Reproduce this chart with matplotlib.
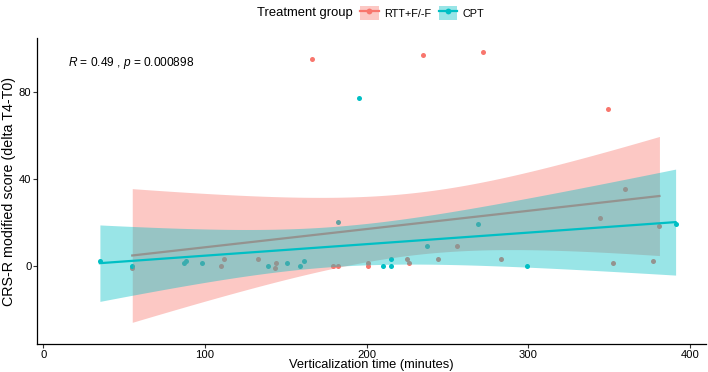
import numpy as np
import matplotlib
matplotlib.use('Agg')
from matplotlib import pyplot as plt
from matplotlib.patches import Patch
from matplotlib.lines import Line2D
from matplotlib.legend_handler import HandlerTuple

plt.rcParams['font.family'] = ['Liberation Sans', 'DejaVu Sans']
plt.rcParams['mathtext.fontset'] = 'custom'
plt.rcParams['mathtext.it'] = 'Liberation Sans:italic'
plt.rcParams['mathtext.rm'] = 'Liberation Sans'

# 数据
groups = ['RTT+F/-F', 'CPT']
colors = ['#F8766D', '#00BFC4']

rtt_x = [55, 110, 112, 133, 143, 144, 166, 179, 182, 201, 201, 225,
         226, 235, 244, 256, 272, 283, 344, 349, 352, 360, 377, 381]
rtt_y = [-1, 0, 3, 3, -1, 1, 95, 0, 0, 1, 0, 3,
         1, 97, 3, 9, 98, 3, 22, 72, 1, 35, 2, 18]

cpt_x = [35, 55, 87, 88, 98, 139, 151, 159, 161, 182, 195, 210,
         215, 215, 237, 269, 299, 391]
cpt_y = [2, 0, 1, 2, 1, 0, 1, 0, 2, 20, 77, 0,
         3, 0, 9, 19, 0, 19]

x_ticks = [0, 100, 200, 300, 400]
y_ticks = [0, 40, 80]
annot = '$\\it{R}$ = 0.49 , $\\it{p}$ = 0.000898'

# t 分位数 (95%), 按自由度
t975 = {16: 2.120, 22: 2.074}


def lm_ci(x, y):
    # 线性回归 + 95% 置信带, 同 geom_smooth(method='lm')
    x = np.asarray(x, float)
    y = np.asarray(y, float)
    n = len(x)
    b, a = np.polyfit(x, y, 1)
    resid = y - (a + b * x)
    s = np.sqrt(np.sum(resid ** 2) / (n - 2))
    sxx = np.sum((x - x.mean()) ** 2)
    xs = np.linspace(x.min(), x.max(), 80)
    ys = a + b * xs
    se = s * np.sqrt(1 / n + (xs - x.mean()) ** 2 / sxx)
    t = t975[n - 2]
    return xs, ys, ys - t * se, ys + t * se


fig = plt.figure(figsize=(7.08, 3.72), dpi=100)
ax = fig.add_axes([37 / 708, 1 - 344 / 372, (706 - 37) / 708, (344 - 38) / 372])

data = [(rtt_x, rtt_y), (cpt_x, cpt_y)]
for i, (gx, gy) in enumerate(data):
    ax.scatter(gx, gy, s=13, color=colors[i], linewidths=0, zorder=1)

for i, (gx, gy) in enumerate(data):
    xs, ys, lo, hi = lm_ci(gx, gy)
    ax.fill_between(xs, lo, hi, color=colors[i], alpha=0.4, linewidth=0, zorder=2 + 2 * i)
    ax.plot(xs, ys, color=colors[i], lw=1.6, zorder=3 + 2 * i)

ax.set_xlim(-3.9, 409.8)
ax.set_ylim(-36.0, 104.6)
ax.set_xticks(x_ticks)
ax.set_yticks(y_ticks)
for sp in ['top', 'right']:
    ax.spines[sp].set_visible(False)
for sp in ['left', 'bottom']:
    ax.spines[sp].set_linewidth(0.9)
    ax.spines[sp].set_color('black')
ax.tick_params(direction='out', length=3, width=0.8, color='#333333',
               labelsize=8.1, labelcolor='black', pad=1.0)

ax.set_xlabel('Verticalization time (minutes)', fontsize=9.3)
ax.xaxis.label.set_va('center')
ax.xaxis.set_label_coords(0.5, (344 - 365) / 306)
ax.set_ylabel('CRS-R modified score (delta T4-T0)', fontsize=10.3, labelpad=2)

ax.text(15.3, 93.2, annot, fontsize=8.6, va='center', ha='left')

# 图例
fig.text(257 / 708, 1 - 13 / 372, 'Treatment group', fontsize=9.4, va='center', ha='left')
handles = []
for c in colors:
    handles.append((Patch(facecolor=c, alpha=0.4, edgecolor='none'),
                    Line2D([], [], color=c, lw=1.6, marker='o', markersize=4.2,
                           markeredgewidth=0)))
fig.legend(handles, groups, handler_map={tuple: HandlerTuple(ndivide=1)},
           loc='center left', bbox_to_anchor=(360 / 708, 1 - 13 / 372),
           ncol=2, frameon=False, fontsize=7.8, handlelength=1.75, handleheight=1.5,
           columnspacing=0.7, handletextpad=0.45, borderpad=0, borderaxespad=0)

fig.savefig('out.png', dpi=100)
